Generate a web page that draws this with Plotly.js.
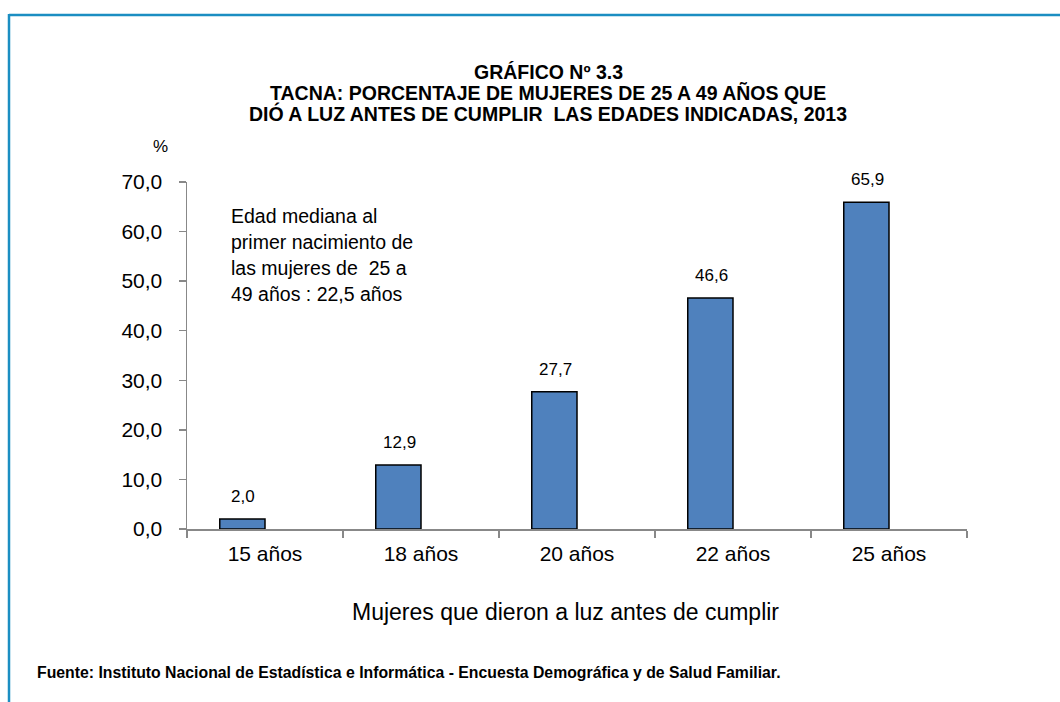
<!DOCTYPE html>
<html><head><meta charset="utf-8">
<script src="https://cdn.plot.ly/plotly-3.0.1.min.js"></script>
<style>html,body{margin:0;padding:0;background:#fff}#chart{width:1060px;height:702px}</style>
</head><body><div id="chart"></div>
<script>
const categories = ["15 años", "18 años", "20 años", "22 años", "25 años"];
const values = [2.0, 12.9, 27.7, 46.6, 65.9];
const yTicks = [0, 10, 20, 30, 40, 50, 60, 70];
const titleLines = ["GRÁFICO Nº 3.3", "TACNA: PORCENTAJE DE MUJERES DE 25 A 49 AÑOS QUE", "DIÓ A LUZ ANTES DE CUMPLIR  LAS EDADES INDICADAS, 2013"];
const noteLines = ["Edad mediana al", "primer nacimiento de", "las mujeres de  25 a", "49 años : 22,5 años"];

const FONT = "Liberation Sans, Arial, sans-serif";
const L = 187, R = 967, T = 182, B = 529;
const px = x => (x - L) / (R - L);
const py = y => (B - y) / (B - T);
const fmt = v => v.toFixed(1).replace('.', ',');

const trace = {
  type: 'bar', x: categories, y: values,
  width: 0.29, offset: -0.29,
  marker: {color: '#4f81bd', line: {color: '#000', width: 1.5}},
  hoverinfo: 'skip'
};

const annotations = categories.map((c, i) => ({
  x: c, y: values[i], xref: 'x', yref: 'y', text: fmt(values[i]),
  showarrow: false, xshift: -22, yshift: 11, yanchor: 'bottom',
  font: {family: FONT, size: 17, color: '#000'}
}));
noteLines.forEach((t, i) => annotations.push({
  xref: 'paper', yref: 'paper', x: px(229), y: py(216 + 26 * i), xanchor: 'left', yanchor: 'middle',
  text: t, showarrow: false, font: {family: FONT, size: 19.5, color: '#000'}
}));
titleLines.forEach((t, i) => annotations.push({
  xref: 'paper', yref: 'paper', x: px(548), y: py(72 + 21 * i), xanchor: 'center', yanchor: 'middle',
  text: '<b>' + t + '</b>', showarrow: false, font: {family: FONT, size: 19.5, color: '#000'}
}));
annotations.push({
  xref: 'paper', yref: 'paper', x: px(160), y: py(146), xanchor: 'center', yanchor: 'middle',
  text: '%', showarrow: false, font: {family: FONT, size: 17, color: '#000'}
});
annotations.push({
  xref: 'paper', yref: 'paper', x: px(565), y: py(612), xanchor: 'center', yanchor: 'middle',
  text: 'Mujeres que dieron a luz antes de cumplir', showarrow: false,
  font: {family: FONT, size: 23, color: '#000'}
});
annotations.push({
  xref: 'paper', yref: 'paper', x: px(35), y: py(672), xanchor: 'left', yanchor: 'middle',
  text: '<b>Fuente: Instituto Nacional de Estadística e Informática - Encuesta Demográfica y de Salud Familiar.</b>',
  showarrow: false, font: {family: FONT, size: 15.8, color: '#000'}
});

const layout = {
  width: 1060, height: 702,
  margin: {l: L, r: 1060 - R, t: T, b: 702 - B},
  paper_bgcolor: '#fff', plot_bgcolor: '#fff',
  separators: ',.',
  showlegend: false,
  xaxis: {
    type: 'category', range: [-0.5, 4.5], tickson: 'boundaries',
    ticks: 'outside', ticklen: 7, tickcolor: '#888', tickwidth: 1.5,
    showline: true, linecolor: '#888', linewidth: 1.5, showgrid: false, zeroline: false,
    tickfont: {family: FONT, size: 21, color: '#000'}, ticklabelstandoff: 5
  },
  yaxis: {
    range: [0, 70], tickvals: yTicks, ticktext: yTicks.map(fmt),
    ticks: 'outside', ticklen: 7, tickcolor: '#888', tickwidth: 1.5,
    showline: true, linecolor: '#888', linewidth: 1.5, showgrid: false, zeroline: false,
    tickfont: {family: FONT, size: 21, color: '#000'}, ticklabelstandoff: 12
  },
  annotations: annotations,
  shapes: [
    {type: 'line', xref: 'paper', yref: 'paper', x0: px(9), x1: px(1062), y0: py(15), y1: py(15), line: {color: '#1b8ec2', width: 2.5}},
    {type: 'line', xref: 'paper', yref: 'paper', x0: px(9), x1: px(9), y0: py(14), y1: py(705), line: {color: '#1b8ec2', width: 2.5}}
  ]
};

Plotly.newPlot('chart', [trace], layout, {displayModeBar: false, staticPlot: true});
</script></body></html>
